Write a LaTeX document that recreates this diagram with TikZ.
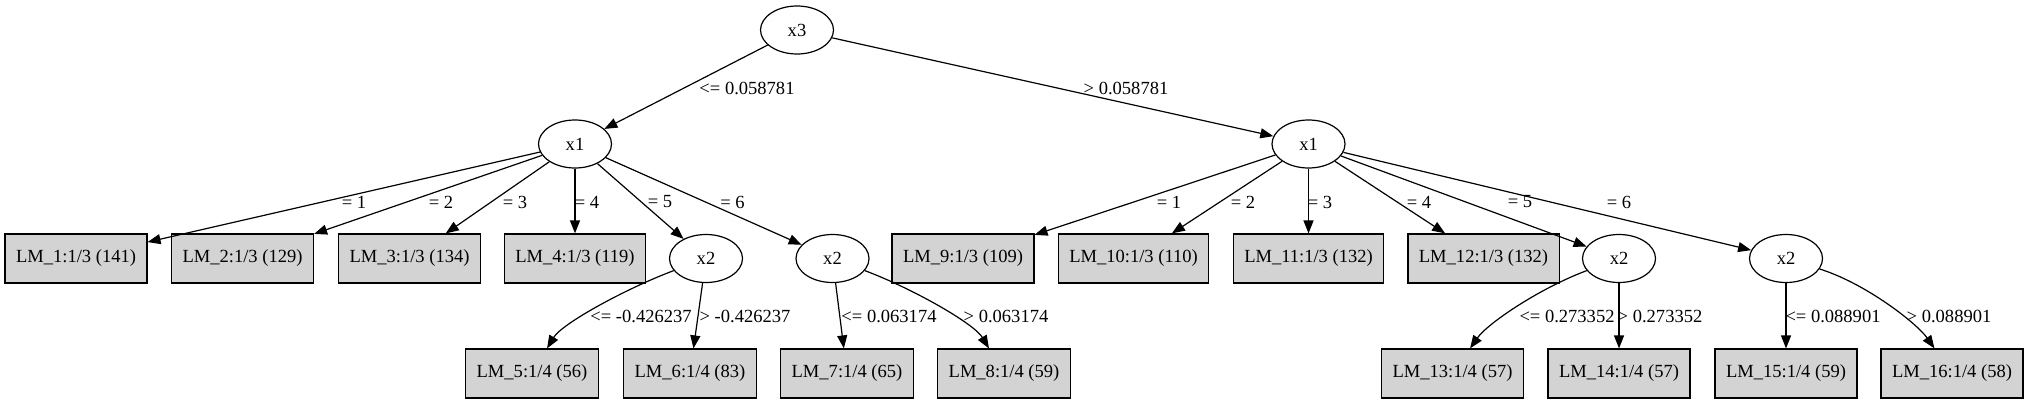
\documentclass[tikz,border=0pt]{standalone}
\usepackage{fontspec}
\setmainfont{Liberation Serif}
\usetikzlibrary{arrows.meta,shapes.geometric}
\definecolor{leafgray}{HTML}{D3D3D3}

\begin{document}
\begin{tikzpicture}[x=0.75pt, y=-0.75pt, line width=0.9pt, font=\fontsize{13.9}{16}\selectfont, >={Triangle[length=9.75pt, width=7.5pt]}]
	\tikzstyle{splitNode} = [ellipse, draw, minimum width=54.75pt, minimum height=36pt, inner sep=0pt]
	\tikzstyle{leafNode} = [rectangle, draw, fill=leafgray, minimum height=36.75pt, inner xsep=8.25pt]
	\tikzstyle{branch} = [->, draw]
	\tikzstyle{cond} = [inner sep=0pt]
	\useasboundingbox (0,0) rectangle (2029,403);

	% inner nodes
	\node[splitNode] (root) at (797,30) {x3};
	\node[splitNode] (lo) at (575,144) {x1};
	\node[splitNode] (hi) at (1308.5,144) {x1};
	\node[splitNode] (loA) at (706,258.5) {x2};
	\node[splitNode] (loB) at (832.5,258.5) {x2};
	\node[splitNode] (hiA) at (1619,258.5) {x2};
	\node[splitNode] (hiB) at (1786,258.5) {x2};

	% leaves
	\node[leafNode] (lm1) at (76,258.5) {LM\_1:1/3 (141)};
	\node[leafNode] (lm2) at (242.5,258.5) {LM\_2:1/3 (129)};
	\node[leafNode] (lm3) at (409.5,258.5) {LM\_3:1/3 (134)};
	\node[leafNode] (lm4) at (575,258.5) {LM\_4:1/3 (119)};
	\node[leafNode] (lm9) at (963,258.5) {LM\_9:1/3 (109)};
	\node[leafNode] (lm10) at (1133.5,258.5) {LM\_10:1/3 (110)};
	\node[leafNode] (lm11) at (1308.5,258.5) {LM\_11:1/3 (132)};
	\node[leafNode] (lm12) at (1483.5,258.5) {LM\_12:1/3 (132)};
	\node[leafNode] (lm5) at (532,373.5) {LM\_5:1/4 (56)};
	\node[leafNode] (lm6) at (690,373.5) {LM\_6:1/4 (83)};
	\node[leafNode] (lm7) at (847,373.5) {LM\_7:1/4 (65)};
	\node[leafNode] (lm8) at (1004,373.5) {LM\_8:1/4 (59)};
	\node[leafNode] (lm13) at (1452.5,373.5) {LM\_13:1/4 (57)};
	\node[leafNode] (lm14) at (1619,373.5) {LM\_14:1/4 (57)};
	\node[leafNode] (lm15) at (1786,373.5) {LM\_15:1/4 (59)};
	\node[leafNode] (lm16) at (1952,373.5) {LM\_16:1/4 (58)};

	% branches
	\draw[branch] (root) -- (lo) node[cond] at (747,88) {<= 0.058781};
	\draw[branch] (root) -- (hi) node[cond] at (1126,88) {> 0.058781};

	\draw[branch] (lo) -- (lm1) node[cond] at (354,202) {= 1};
	\draw[branch] (lo) -- (lm2) node[cond] at (441,202) {= 2};
	\draw[branch] (lo) -- (lm3) node[cond] at (515,202) {= 3};
	\draw[branch] (lo) -- (lm4) node[cond] at (587,202) {= 4};
	\draw[branch] (lo) -- (loA) node[cond] at (660,202) {= 5};
	\draw[branch] (lo) -- (loB) node[cond] at (732.5,202) {= 6};

	\draw[branch] (hi) -- (lm9) node[cond] at (1169,202) {= 1};
	\draw[branch] (hi) -- (lm10) node[cond] at (1243,202) {= 2};
	\draw[branch] (hi) -- (lm11) node[cond] at (1320,202) {= 3};
	\draw[branch] (hi) -- (lm12) node[cond] at (1419,202) {= 4};
	\draw[branch] (hi) -- (hiA) node[cond] at (1520,202) {= 5};
	\draw[branch] (hi) -- (hiB) node[cond] at (1619,202) {= 6};

	\draw[branch] (loA) .. controls +(-80,30) and +(30,-50) .. (lm5) node[cond] at (641,316.7) {<= -0.426237};
	\draw[branch] (loA) -- (lm6) node[cond] at (745,316.7) {> -0.426237};
	\draw[branch] (loB) -- (lm7) node[cond] at (889,316.7) {<= 0.063174};
	\draw[branch] (loB) .. controls +(80,30) and +(-30,-50) .. (lm8) node[cond] at (1006,316.7) {> 0.063174};

	\draw[branch] (hiA) .. controls +(-80,30) and +(35,-50) .. (lm13) node[cond] at (1567,316.7) {<= 0.273352};
	\draw[branch] (hiA) -- (lm14) node[cond] at (1660,316.7) {> 0.273352};
	\draw[branch] (hiB) -- (lm15) node[cond] at (1833,316.7) {<= 0.088901};
	\draw[branch] (hiB) .. controls +(80,25) and +(-35,-50) .. (lm16) node[cond] at (1949,316.7) {> 0.088901};
\end{tikzpicture}
\end{document}
